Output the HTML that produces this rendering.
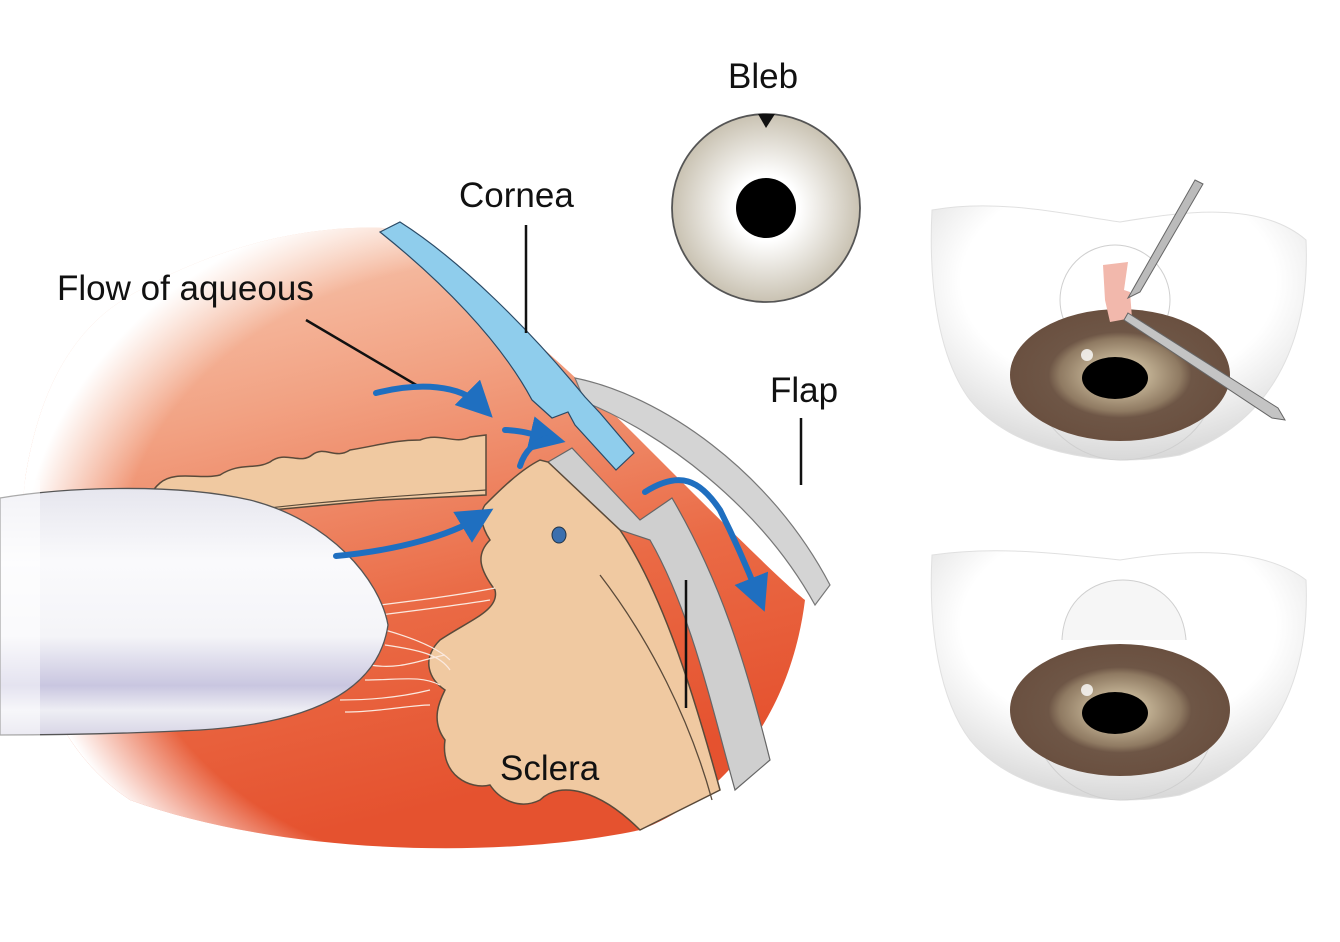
<!DOCTYPE html>
<html><head><meta charset="utf-8"><style>
html,body{margin:0;padding:0;background:#fff;}
svg{display:block;}
text{font-family:"Liberation Sans",Arial,sans-serif;fill:#111;}
</style></head><body>
<svg width="1340" height="942" viewBox="0 0 1340 942" xmlns="http://www.w3.org/2000/svg">
<defs>
<linearGradient id="red" x1="0" y1="0" x2="0.3" y2="1">
<stop offset="0" stop-color="#f8d2bd"/><stop offset="0.35" stop-color="#f2a283"/><stop offset="0.7" stop-color="#ea6a45"/><stop offset="1" stop-color="#e5522f"/></linearGradient>
<radialGradient id="fadeL" cx="0.62" cy="0.55" r="0.62">
<stop offset="0.8" stop-color="#fff" stop-opacity="0"/><stop offset="1" stop-color="#fff" stop-opacity="1"/></radialGradient>
<linearGradient id="lens" x1="0" y1="0" x2="0" y2="1">
<stop offset="0" stop-color="#e6e6ee"/><stop offset="0.3" stop-color="#fafafc"/><stop offset="0.6" stop-color="#f4f4f8"/><stop offset="0.8" stop-color="#c9c6e0"/><stop offset="0.9" stop-color="#eeeef4"/><stop offset="1" stop-color="#d8d6e6"/></linearGradient>
<radialGradient id="bleb" cx="0.5" cy="0.5" r="0.5">
<stop offset="0.35" stop-color="#fff"/><stop offset="1" stop-color="#c9c2b2"/></radialGradient>
<radialGradient id="iris" cx="0.5" cy="0.5" r="0.5">
<stop offset="0.2" stop-color="#c8b89a"/><stop offset="0.55" stop-color="#8f7a62"/><stop offset="0.65" stop-color="#6e5646"/><stop offset="1" stop-color="#6a5040"/></radialGradient>
<radialGradient id="bowl" cx="0.5" cy="0.3" r="0.7">
<stop offset="0.6" stop-color="#fff"/><stop offset="1" stop-color="#d8d8d8"/></radialGradient>
<marker id="ah" markerWidth="6" markerHeight="6" refX="3" refY="3" orient="auto" markerUnits="strokeWidth"><path d="M0,0 L6,3 L0,6 Z" fill="#1f6fc0"/></marker>
</defs>

<!-- main red body -->
<path d="M140,290 C230,240 320,225 385,228 C470,280 560,360 640,440 C720,520 780,580 805,600 C790,720 720,800 640,830 C500,860 280,855 130,800 C40,740 10,620 25,480 C40,380 80,320 140,290 Z" fill="url(#red)"/>
<path d="M140,290 C230,240 320,225 385,228 C470,280 560,360 640,440 C720,520 780,580 805,600 C790,720 720,800 640,830 C500,860 280,855 130,800 C40,740 10,620 25,480 C40,380 80,320 140,290 Z" fill="url(#fadeL)"/>
<path d="M810,600 C790,720 720,820 600,860 L900,860 L900,600 Z" fill="#fff"/>

<!-- gray outer sclera band -->
<path d="M575,378 C660,395 770,470 830,585 L815,605 C760,505 660,432 585,402 Z" fill="#d4d4d4" stroke="#777" stroke-width="1.2"/>
<!-- gray angle band -->
<path d="M548,462 L572,448 L640,520 L672,498 C720,580 745,660 770,760 L735,790 C710,700 690,610 650,540 L620,530 Z" fill="#cfcfcf" stroke="#666" stroke-width="1.2"/>

<!-- ciliary / sclera tan -->
<path d="M485,505 C500,490 520,470 540,460 L548,462 L620,530 C660,590 690,680 720,790 L640,830 C600,790 560,780 540,800 C520,810 500,800 490,785 C470,790 440,775 445,740 C430,720 440,700 445,690 C430,680 420,660 440,640 C470,620 500,610 495,590 C480,570 475,555 490,540 C480,525 480,512 485,505 Z" fill="#f0c9a1" stroke="#5a4a3a" stroke-width="1.5"/>
<path d="M600,575 C650,640 690,720 712,800" fill="none" stroke="#5a4a3a" stroke-width="1.3"/>
<ellipse cx="559" cy="535" rx="7" ry="8" fill="#3b6fae" stroke="#234" stroke-width="1"/>

<!-- iris tan -->
<path d="M160,483 C175,470 200,480 220,475 C240,462 255,470 270,462 C285,450 300,465 312,455 C325,445 335,460 350,450 C380,445 395,440 420,440 C440,432 455,445 470,437 L486,435 L486,495 L380,500 L250,512 C220,515 200,520 180,522 C150,520 140,500 160,483 Z" fill="#f0c9a1" stroke="#5a4a3a" stroke-width="1.5"/>
<path d="M190,520 C260,505 400,496 486,490" fill="none" stroke="#5a4a3a" stroke-width="1.2"/>

<!-- zonules -->
<g stroke="#fbe9df" stroke-width="1.2" fill="none">
<path d="M380,605 C420,600 460,595 495,588"/><path d="M380,615 C420,610 460,605 490,600"/>
<path d="M385,630 C420,640 440,650 450,660"/><path d="M385,645 C420,650 440,655 450,670"/>
<path d="M370,665 C400,670 420,660 445,655"/><path d="M365,680 C400,680 420,675 440,685"/>
<path d="M340,700 C380,700 410,695 430,690"/><path d="M345,712 C380,712 410,705 430,705"/>
</g>

<!-- lens -->
<path d="M0,498 C60,488 170,482 250,500 C330,520 380,580 388,625 C380,680 330,722 200,730 C120,734 40,735 0,735 Z" fill="url(#lens)" stroke="#555" stroke-width="1.3"/>
<rect x="0" y="480" width="40" height="270" fill="#fff" opacity="0.5"/>

<!-- cornea -->
<path d="M380,232 L400,222 C460,260 530,330 585,397 L600,413 L634,453 L616,470 L575,425 L568,412 L552,418 L532,400 C500,340 440,280 380,232 Z" fill="#8fcdec" stroke="#2a4a66" stroke-width="1.2"/>

<!-- leader lines -->
<g stroke="#111" stroke-width="2.5">
<line x1="526" y1="225" x2="526" y2="333"/>
<line x1="306" y1="320" x2="418" y2="386"/>
<line x1="801" y1="418" x2="801" y2="485"/>
<line x1="686" y1="580" x2="686" y2="708"/>
</g>

<!-- blue arrows -->
<g stroke="#1f6fc0" stroke-width="6" fill="none" stroke-linecap="round">
<path d="M376,393 C420,382 460,385 480,405" marker-end="url(#ah)"/>
<path d="M336,556 C400,550 450,535 478,518" marker-end="url(#ah)"/>
<path d="M505,430 C520,430 535,435 548,438" marker-end="url(#ah)"/>
<path d="M520,466 C525,450 535,442 548,438"/>
<path d="M645,492 C680,470 700,480 720,510 C735,540 748,570 758,595" marker-end="url(#ah)"/>
</g>

<!-- labels -->
<text x="57" y="300" font-size="35">Flow of aqueous</text>
<text x="459" y="207" font-size="35">Cornea</text>
<text x="728" y="88" font-size="35">Bleb</text>
<text x="770" y="402" font-size="35">Flap</text>
<text x="500" y="780" font-size="35">Sclera</text>

<!-- bleb eye -->
<circle cx="766" cy="208" r="94" fill="url(#bleb)" stroke="#555" stroke-width="1.8"/>
<circle cx="766" cy="208" r="30" fill="#000"/>
<path d="M758,114 L775,114 L766,128 Z" fill="#111"/>

<!-- right top eye -->
<g>
<path d="M932,210 C1000,198 1070,215 1120,222 C1180,212 1260,200 1306,240 C1310,330 1280,420 1180,455 C1100,470 1010,450 970,400 C940,360 928,290 932,210 Z" fill="url(#bowl)" stroke="#e0e0e0" stroke-width="1"/>
<path d="M1030,380 C1040,430 1080,460 1120,460 C1170,460 1210,430 1215,385" fill="none" stroke="#cfcfcf" stroke-width="1"/>
<circle cx="1115" cy="300" r="55" fill="none" stroke="#cfcfcf" stroke-width="1"/>
<ellipse cx="1120" cy="375" rx="110" ry="66" fill="url(#iris)"/>
<ellipse cx="1115" cy="378" rx="33" ry="21" fill="#000"/>
<circle cx="1087" cy="355" r="6" fill="#fff" opacity="0.8"/>
<path d="M1103,265 L1128,262 L1124,290 L1130,292 L1132,318 L1110,322 L1105,300 Z" fill="#f2b8ac"/>
<path d="M1195,180 L1203,184 L1140,292 L1128,298 Z" fill="#bbb" stroke="#666" stroke-width="1"/>
<path d="M1128,313 L1278,408 L1285,420 L1272,418 L1124,320 Z" fill="#c4c4c4" stroke="#666" stroke-width="1"/>
</g>
<!-- right bottom eye -->
<g>
<path d="M932,555 C1000,545 1070,555 1120,560 C1180,550 1260,545 1306,580 C1310,670 1280,760 1180,795 C1100,810 1010,790 970,740 C940,700 928,630 932,555 Z" fill="url(#bowl)" stroke="#e0e0e0" stroke-width="1"/>
<path d="M1062,640 C1065,560 1180,560 1186,640" fill="#f6f6f6" stroke="#cfcfcf" stroke-width="1"/>
<path d="M1030,720 C1040,770 1080,800 1120,800 C1170,800 1210,770 1215,725" fill="none" stroke="#cfcfcf" stroke-width="1"/>
<ellipse cx="1120" cy="710" rx="110" ry="66" fill="url(#iris)"/>
<ellipse cx="1115" cy="713" rx="33" ry="21" fill="#000"/>
<circle cx="1087" cy="690" r="6" fill="#fff" opacity="0.8"/>
</g>
</svg>
</body></html>
